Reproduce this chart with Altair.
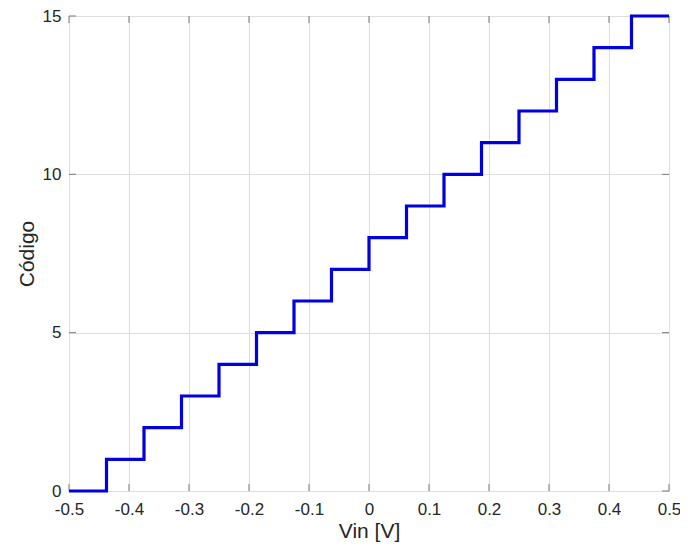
import altair as alt
import pandas as pd

# staircase transition points (Vin) and codes
vin = [-0.5, -0.4375, -0.375, -0.3125, -0.25, -0.1875, -0.125, -0.0625, 0.0,
       0.0625, 0.125, 0.1875, 0.25, 0.3125, 0.375, 0.4375, 0.5]
code = [0, 1, 2, 3, 4, 5, 6, 7, 8, 9, 10, 11, 12, 13, 14, 15, 15]

x_ticks = [-0.5, -0.4, -0.3, -0.2, -0.1, 0, 0.1, 0.2, 0.3, 0.4, 0.5]
y_ticks = [0, 5, 10, 15]

W, H = 600, 475
FONT = "Liberation Sans"
FRAME = "#7a7a7a"
TXT = "#262626"
LABEL_EXPR = "datum.value < 0 ? '-' + format(-datum.value, '~g') : format(datum.value, '~g')"

df = pd.DataFrame({"vin": vin, "code": code})
xt = pd.DataFrame({"t": x_ticks})
yt = pd.DataFrame({"t": y_ticks})

xs = alt.Scale(domain=[-0.5, 0.5], nice=False, zero=False)
ys = alt.Scale(domain=[0, 15], nice=False, zero=False)

xaxis = alt.Axis(values=x_ticks, labelExpr=LABEL_EXPR, title="Vin [V]", grid=True,
                 gridColor="#dedede", tickSize=0, labelPadding=10,
                 labelFontSize=17, labelFont=FONT, labelColor=TXT,
                 titleFontSize=21, titleFont=FONT, titleColor=TXT,
                 titleFontWeight="normal", titlePadding=3, domain=False,
                 labelFlush=False)
yaxis = alt.Axis(values=y_ticks, title="Código", grid=True,
                 gridColor="#dedede", tickSize=0, labelPadding=8,
                 labelFontSize=17, labelFont=FONT, labelColor=TXT,
                 titleFontSize=21, titleFont=FONT, titleColor=TXT,
                 titleFontWeight="normal", titlePadding=5, domain=False,
                 labelFlush=False)

line = alt.Chart(df).mark_line(interpolate="step-after", color="#0000e0",
                               strokeWidth=3.2, clip=False).encode(
    x=alt.X("vin:Q", scale=xs, axis=xaxis),
    y=alt.Y("code:Q", scale=ys, axis=yaxis),
)

tick_len = 7
xb = alt.Chart(xt).mark_rule(color=FRAME, strokeWidth=1).encode(
    x=alt.X("t:Q", scale=xs), y=alt.value(H), y2=alt.value(H - tick_len))
xtop = alt.Chart(xt).mark_rule(color=FRAME, strokeWidth=1).encode(
    x=alt.X("t:Q", scale=xs), y=alt.value(0), y2=alt.value(tick_len))
yl = alt.Chart(yt).mark_rule(color=FRAME, strokeWidth=1).encode(
    y=alt.Y("t:Q", scale=ys), x=alt.value(0), x2=alt.value(tick_len))
yr = alt.Chart(yt).mark_rule(color=FRAME, strokeWidth=1).encode(
    y=alt.Y("t:Q", scale=ys), x=alt.value(W), x2=alt.value(W - tick_len))

chart = alt.layer(xb, xtop, yl, yr, line).properties(
    width=W, height=H,
    autosize=alt.AutoSizeParams(type="none"),
    padding={"left": 61, "top": 8, "right": 11, "bottom": 56},
).configure_view(stroke=FRAME, strokeWidth=1.2).configure(background="white")

chart.save("out.html", embed_options={"renderer": "svg", "actions": False})
